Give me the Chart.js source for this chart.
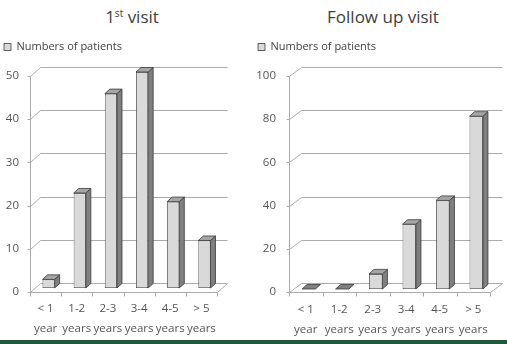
<!DOCTYPE html>
<html><head><meta charset="utf-8">
<script src="https://cdn.jsdelivr.net/npm/chart.js@4/dist/chart.umd.min.js"></script>
<style>
html,body{margin:0;padding:0;background:#fff;}
body{width:507px;height:344px;position:relative;overflow:hidden;font-family:'Open Sans',sans-serif;}
.title{position:absolute;top:7px;font-size:17px;line-height:20px;color:#404040;white-space:nowrap;transform:translateX(-50%);}
.title sup{font-size:10px;line-height:0;vertical-align:6px;}
#c1{position:absolute;left:0;top:0;}
#c2{position:absolute;left:254px;top:0;}
.strip{position:absolute;left:0;top:340px;width:507px;height:4px;background:#1d5c3b;}
</style></head>
<body>
<div class="title" style="left:132px">1<sup>st</sup> visit</div>
<div class="title" style="left:383px">Follow up visit</div>
<canvas id="c1" width="254" height="344"></canvas>
<canvas id="c2" width="253" height="344"></canvas>
<div class="strip"></div>
<script>
const categories = [['< 1','year'],['1-2','years'],['2-3','years'],['3-4','years'],['4-5','years'],['> 5','years']];
const firstVisit = [2, 22, 45, 50, 20, 11];
const followUpVisit = [0, 0, 7, 30, 41, 80];
const seriesLabel = 'Numbers of patients';
const yTicksFirst = [0, 10, 20, 30, 40, 50];
const yTicksFollow = [0, 20, 40, 60, 80, 100];

Chart.defaults.font.family = "'Open Sans', sans-serif";

function threeD(geo) {
  const crisp = v => Math.round(v) + 0.5;
  return {
    id: 'threeD',
    beforeDatasetsDraw(chart) {
      const {ctx, chartArea: a, scales: {x, y}} = chart;
      const f = geo.front, b = geo.back;
      ctx.save();
      ctx.strokeStyle = '#ababab';
      ctx.lineWidth = 1;
      ctx.beginPath();
      const vals = y.ticks.map(t => t.value);
      vals.forEach(v => {
        const py = y.getPixelForValue(v);
        ctx.moveTo(crisp(a.left + f.dx), crisp(py + f.dy));
        ctx.lineTo(crisp(a.left + b.dx), crisp(py + b.dy));
        ctx.lineTo(crisp(a.right + b.dx), crisp(py + b.dy));
        ctx.moveTo(crisp(a.left + f.dx - 3), crisp(py + f.dy));
        ctx.lineTo(crisp(a.left + f.dx), crisp(py + f.dy));
      });
      const y0 = y.getPixelForValue(0), yM = y.getPixelForValue(y.max);
      ctx.moveTo(crisp(a.left + f.dx), crisp(yM + f.dy));
      ctx.lineTo(crisp(a.left + f.dx), crisp(y0 + f.dy));
      ctx.moveTo(crisp(a.left + f.dx), crisp(y0 + f.dy));
      ctx.lineTo(crisp(a.right + f.dx), crisp(y0 + f.dy));
      ctx.lineTo(crisp(a.right + b.dx), crisp(y0 + b.dy));
      const n = x.ticks.length;
      for (let i = 0; i <= n; i++) {
        const px = x.getPixelForValue(i - 0.5) + f.dx;
        ctx.moveTo(crisp(px), crisp(y0 + f.dy));
        ctx.lineTo(crisp(px), crisp(y0 + f.dy + 4));
      }
      ctx.stroke();
      ctx.restore();
    },
    afterDatasetsDraw(chart) {
      const {ctx} = chart;
      const d = geo.depth;
      const meta = chart.getDatasetMeta(0);
      const data = chart.data.datasets[0].data;
      ctx.save();
      ctx.strokeStyle = '#3a3a3a';
      ctx.lineWidth = 0.8;
      ctx.lineJoin = 'round';
      meta.data.forEach((bar, i) => {
        const p = bar.getProps(['x', 'y', 'base', 'width'], true);
        const l = p.x - p.width / 2, r = p.x + p.width / 2, t = p.y, bs = p.base;
        const poly = (pts, fill) => {
          ctx.beginPath();
          ctx.moveTo(pts[0][0], pts[0][1]);
          for (let k = 1; k < pts.length; k++) ctx.lineTo(pts[k][0], pts[k][1]);
          ctx.closePath();
          ctx.fillStyle = fill;
          ctx.fill();
          ctx.stroke();
        };
        if (data[i] > 0) {
          poly([[r, t], [r + d.dx, t + d.dy], [r + d.dx, bs + d.dy], [r, bs]], '#7f7f7f');
        }
        poly([[l, t], [l + d.dx, t + d.dy], [r + d.dx, t + d.dy], [r, t]], data[i] > 0 ? '#a6a6a6' : '#7f7f7f');
      });
      ctx.restore();
    }
  };
}

function makeChart(id, values, yTicks, g) {
  return new Chart(document.getElementById(id), {
    type: 'bar',
    data: {
      labels: categories,
      datasets: [{
        label: seriesLabel,
        data: values,
        backgroundColor: '#d9d9d9',
        borderColor: '#3a3a3a',
        borderWidth: 0.8,
        borderSkipped: false,
        categoryPercentage: 1,
        barPercentage: g.barPct
      }]
    },
    options: {
      responsive: false,
      animation: false,
      devicePixelRatio: 1,
      layout: {padding: {top: g.padTop, left: 0, right: g.padRight, bottom: 0}},
      plugins: {
        legend: {
          position: 'top', align: 'start',
          labels: {boxWidth: 7, boxHeight: 7, padding: 4, color: '#404040', font: {size: 11}}
        },
        title: {display: true, text: '', weight: 0, position: 'top', padding: 0, font: {size: g.spacer, lineHeight: 1}},
        tooltip: {enabled: false}
      },
      scales: {
        x: {
          grid: {display: false, drawTicks: false},
          border: {display: false},
          ticks: {color: '#555555', font: {size: 11.5, lineHeight: '20px'}, padding: g.xPad, labelOffset: g.front.dx, maxRotation: 0, autoSkip: false},
          afterFit: s => { s.height = g.xHeight; }
        },
        y: {
          min: yTicks[0], max: yTicks[yTicks.length - 1],
          grid: {display: false, drawTicks: false},
          border: {display: false},
          ticks: {stepSize: yTicks[1] - yTicks[0], color: '#555555', font: {size: 11.5}, padding: g.yPad, labelOffset: g.front.dy},
          afterFit: s => { s.width = g.yWidth; }
        }
      }
    },
    plugins: [threeD(g)]
  });
}

makeChart('c1', firstVisit, yTicksFirst, {
  barPct: 0.39, padTop: 37.5, padRight: 34, spacer: 9.5, xHeight: 56, xPad: 11, yWidth: 33, yPad: 14,
  front: {dx: -3, dy: 4}, back: {dx: 7, dy: -5}, depth: {dx: 5, dy: -4.5}
});
makeChart('c2', followUpVisit, yTicksFollow, {
  barPct: 0.4, padTop: 37.5, padRight: 14, spacer: 10.5, xHeight: 55, xPad: 11, yWidth: 38, yPad: 16,
  front: {dx: -3, dy: 3}, back: {dx: 9, dy: -6}, depth: {dx: 5, dy: -4.5}
});
</script>
</body></html>
